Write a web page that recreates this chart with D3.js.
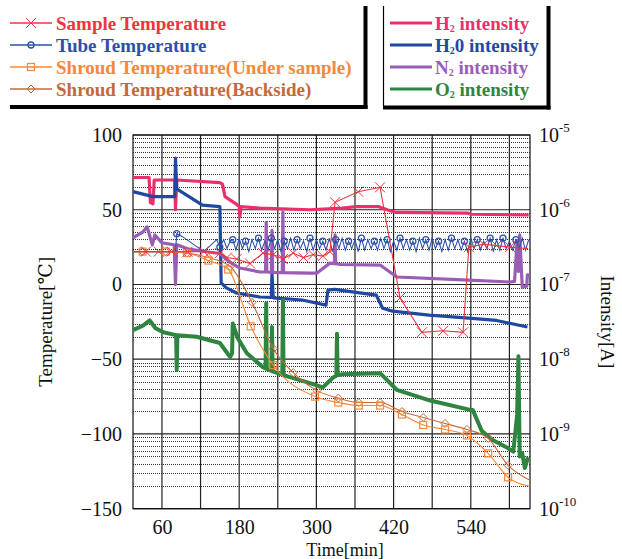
<!DOCTYPE html>
<html>
<head>
<meta charset="utf-8">
<script src="https://cdn.jsdelivr.net/npm/d3@7"></script>
<style>
body { margin: 0; background: #fff; }
</style>
</head>
<body>
<script>

// Temperature series [time(min), temperature(C)]
var sampleTemp = [[15,22],[35,22],[55,22],[75,22],[100,22],[125,22],[150,21],[161,18],[176,17],[197,14],[217,21],[233,20],[248,17],[264,21],[280,18],[295,20],[310,19],[321,22],[329,55],[365,62],[399,65],[430,-9],[464,-32],[497,-31],[528,-32],[537,25],[560,27],[580,26],[601,25],[629,24]];

var tubeTemp = [[15,22],[40,22],[60,22],[81,22],[83,34],[92,32],[125,22],[145,30],[150,25],[156,30],[161,24],[166,29],
  [170,30],[175,23],[180,31],[185,24],[190,29],[195,22],[200,30],[205,24],[210,31],[215,23],[220,29],[225,23],
  [230,31],[235,24],[240,30],[245,22],[250,29],[255,24],[260,31],[265,23],[270,30],[275,24],[280,29],[285,22],
  [290,31],[295,23],[300,30],[305,24],[310,29],[315,23],[320,31],[325,22],[330,30],[335,24],[340,31],[345,23],
  [350,29],[355,24],[360,30],[365,22],[370,31],[375,23],[380,30],[385,24],[390,29],[395,23],[400,31],[405,24],
  [410,30],[415,22],[420,29],[425,23],[430,31],[435,24],[440,30],[445,23],[450,29],[455,22],[460,31],[465,24],
  [470,30],[475,23],[480,31],[485,24],[490,29],[495,22],[500,30],[505,23],[510,31],[515,24],[520,30],[525,23],
  [530,29],[535,22],[540,31],[545,24],[550,30],[555,23],[560,29],[565,24],[570,31],[575,22],[580,30],[585,23],
  [590,31],[595,24],[600,29],[605,23],[610,30],[615,24],[620,31],[625,23],[630,30]];

var shroudUnder = [[15,22],[30,22],[66,22],[99,21],[132,16],[163,10],[198,-28],[233,-54],[298,-75],[334,-79],[366,-81],[399,-81],[433,-87],[466,-94],[500,-97],[534,-101],[567,-113],[598,-129],[632,-135]];

var shroudBack = [[15,22],[30,22],[66,22],[99,21],[132,18],[166,12],[200,-12],[233,-43],[264,-59],[301,-71],[334,-76],[366,-79],[399,-79],[433,-85],[466,-89],[500,-93],[534,-97],[567,-103],[598,-121],[632,-131]];

// Intensity series [time(min), intensity(A)]
var h2Int = [[15,2.7e-6],[40,2.7e-6],[42,1.25e-6],[46,1.2e-6],[48,2.5e-6],[80,2.5e-6],[81,1.0e-6],[83,2.5e-6],[150,2.3e-6],[154,2.2e-6],[158,1.5e-6],[175,1.2e-6],[180,1.1e-6],[181,8e-7],[183,1.1e-6],[212,1.05e-6],[290,1.0e-6],[340,1.05e-6],[362,1.1e-6],[397,1.1e-6],[410,1.0e-6],[424,9.2e-7],[536,9.0e-7],[540,8.7e-7],[630,8.5e-7]];

var h2oInt = [[15,1.75e-6],[46,1.5e-6],[80,1.5e-6],[81,4.9e-6],[83,1.9e-6],[123,1.15e-6],[150,1.1e-6],[152,1.05e-7],[160,9e-8],[176,7.7e-8],[212,6.8e-8],[230,6.7e-8],[231,1.4e-7],[233,6.6e-8],[278,6.2e-8],[315,5.3e-8],[318,8.4e-8],[328,8.6e-8],[393,7.2e-8],[403,4.8e-8],[418,4.4e-8],[475,3.9e-8],[537,3.55e-8],[580,3.3e-8],[628,2.7e-8]];

var n2Int = [[15,4.2e-7],[30,5e-7],[37,5.9e-7],[45,3.4e-7],[49,4.6e-7],[60,3.6e-7],[79,3.4e-7],[81,1.0e-7],[83,3.4e-7],[100,3.0e-7],[135,2.7e-7],[150,2.6e-7],[165,2.0e-7],[181,1.66e-7],[212,1.47e-7],[221,1.47e-7],[222,6.8e-7],[223,1.47e-7],[230,1.45e-7],[231,5.3e-7],[232,1.45e-7],[247,1.44e-7],[248,9.3e-7],[249,1.44e-7],[290,1.42e-7],[301,1.42e-7],[321,1.93e-7],[328,1.9e-7],[329,4.6e-7],[330,1.9e-7],[337,1.85e-7],[399,1.82e-7],[425,1.26e-7],[528,1.15e-7],[601,1.08e-7],[608,1.1e-7],[612,3.9e-7],[614,1.5e-7],[616,4.6e-7],[620,9.2e-8],[627,9.5e-8],[628,1.35e-7],[632,1.3e-7]];

var o2Int = [[15,2.45e-8],[30,2.8e-8],[41,3.3e-8],[50,2.6e-8],[62,2.3e-8],[82,2.1e-8],[83,7.2e-9],[84,2.1e-8],[114,2.0e-8],[150,1.65e-8],[166,1.07e-8],[169,1.2e-8],[170,3.0e-8],[178,1.9e-8],[192,1.2e-8],[217,7.8e-9],[221,7.5e-9],[222,5.6e-8],[223,7.4e-9],[230,7e-9],[231,2.7e-8],[232,6.9e-9],[247,6.2e-9],[248,6.2e-8],[249,6.1e-9],[259,5.75e-9],[290,4.8e-9],[310,4.2e-9],[326,5.7e-9],[331,6.0e-9],[332,2.2e-8],[333,6.1e-9],[340,6.3e-9],[399,6.5e-9],[425,3.9e-9],[477,2.8e-9],[539,2.1e-9],[543,2.1e-9],[557,1.1e-9],[574,8.3e-10],[596,6.6e-10],[606,5.8e-10],[612,1.8e-9],[614,1.1e-8],[616,5e-10],[620,5.5e-10],[624,3.5e-10],[629,4.9e-10]];

// Axis ticks
var timeGrid = [60, 120, 180, 240, 300, 360, 420, 480, 540, 600];
var timeLabels = [60, 180, 300, 420, 540];
var tempTicks = [100, 50, 0, -50, -100, -150];
var intExponents = [-5, -6, -7, -8, -9, -10];

var serif = "'Liberation Serif', 'DejaVu Serif', serif";
var width = 622, height = 559;
var plot = {left: 133, right: 530, top: 135, bottom: 508.7};

var svg = d3.select("body").append("svg")
            .attr("width", width)
            .attr("height", height)
            .style("font-family", serif);

var x = d3.scaleLinear().domain([15, 632]).range([plot.left, plot.right]);
var yT = d3.scaleLinear().domain([-150, 100]).range([plot.bottom, plot.top]);
var yI = d3.scaleLog().domain([1e-10, 1e-5]).range([plot.bottom, plot.top]);

// minor dotted grid from the log axis
var minor = yI.ticks().filter(function(d) {
  var l = Math.log10(d);
  return Math.abs(l - Math.round(l)) > 1e-6;
});
svg.append("g").selectAll("line")
   .data(minor).enter().append("line")
   .attr("x1", plot.left).attr("x2", plot.right)
   .attr("y1", function(d) { return Math.round(yI(d)) + 0.5; })
   .attr("y2", function(d) { return Math.round(yI(d)) + 0.5; })
   .attr("stroke", "#333")
   .attr("stroke-width", 1)
   .attr("stroke-dasharray", "1,1");

// solid grid
svg.append("g").selectAll("line")
   .data(tempTicks).enter().append("line")
   .attr("x1", plot.left).attr("x2", plot.right)
   .attr("y1", function(d) { return yT(d); })
   .attr("y2", function(d) { return yT(d); })
   .attr("stroke", "#222").attr("stroke-width", 1.2);

svg.append("g").selectAll("line")
   .data(timeGrid).enter().append("line")
   .attr("x1", function(d) { return x(d); })
   .attr("x2", function(d) { return x(d); })
   .attr("y1", plot.top).attr("y2", plot.bottom)
   .attr("stroke", "#222").attr("stroke-width", 1.2);

svg.append("rect")
   .attr("x", plot.left).attr("y", plot.top)
   .attr("width", plot.right - plot.left)
   .attr("height", plot.bottom - plot.top)
   .attr("fill", "none").attr("stroke", "#111").attr("stroke-width", 1.2);

// intensity lines (right axis)
var intSeries = [
  {data: h2Int, color: "#e9306b", w: 3.2},
  {data: h2oInt, color: "#1f48a3", w: 3.2},
  {data: n2Int, color: "#9a5db6", w: 3.2},
  {data: o2Int, color: "#2e8540", w: 4}
];
var intLine = d3.line()
                .x(function(d) { return x(d[0]); })
                .y(function(d) { return yI(d[1]); });
intSeries.forEach(function(s) {
  svg.append("path")
     .datum(s.data)
     .attr("d", intLine)
     .attr("fill", "none")
     .attr("stroke", s.color)
     .attr("stroke-width", s.w)
     .attr("stroke-linejoin", "round");
});

// markers
function drawMark(g, type, cx, cy, color) {
  if (type == "cross") {
    g.append("path").attr("d", "M" + (cx-5) + "," + (cy-5) + "L" + (cx+5) + "," + (cy+5) + "M" + (cx-5) + "," + (cy+5) + "L" + (cx+5) + "," + (cy-5))
     .attr("stroke", color).attr("stroke-width", 1);
  } else if (type == "circle") {
    g.append("circle").attr("cx", cx).attr("cy", cy).attr("r", 3)
     .attr("fill", "none").attr("stroke", color).attr("stroke-width", 1.3);
  } else if (type == "square") {
    g.append("rect").attr("x", cx-3.5).attr("y", cy-3.5).attr("width", 7).attr("height", 7)
     .attr("fill", "none").attr("stroke", color).attr("stroke-width", 1.2);
  } else {
    g.append("path").attr("d", "M" + cx + "," + (cy-4) + "L" + (cx+4) + "," + cy + "L" + cx + "," + (cy+4) + "L" + (cx-4) + "," + cy + "Z")
     .attr("fill", "none").attr("stroke", color).attr("stroke-width", 1);
  }
}

// temperature lines (left axis)
var tempSeries = [
  {data: shroudBack, color: "#c4693a", mark: "diamond", curve: d3.curveMonotoneX, every: 1},
  {data: shroudUnder, color: "#f7883a", mark: "square", curve: d3.curveMonotoneX, every: 1},
  {data: tubeTemp, color: "#2c50a8", mark: "circle", curve: d3.curveLinear, every: 4},
  {data: sampleTemp, color: "#ee3540", mark: "cross", curve: d3.curveLinear, every: 1}
];
tempSeries.forEach(function(s) {
  var line = d3.line()
               .x(function(d) { return x(d[0]); })
               .y(function(d) { return yT(d[1]); })
               .curve(s.curve);
  svg.append("path")
     .datum(s.data)
     .attr("d", line)
     .attr("fill", "none")
     .attr("stroke", s.color)
     .attr("stroke-width", 1.1);
  var g = svg.append("g");
  s.data.forEach(function(d, i) {
    if (i == 0 || i == s.data.length - 1) return;
    if (i % s.every != 0) return;
    drawMark(g, s.mark, x(d[0]), yT(d[1]), s.color);
  });
});

// left axis
var leftAxis = svg.append("g")
   .attr("transform", "translate(" + plot.left + ",0)")
   .call(d3.axisLeft(yT).tickValues(tempTicks).tickSize(0).tickPadding(11));
leftAxis.attr("font-family", serif);
leftAxis.select(".domain").remove();
leftAxis.selectAll("text").style("font-family", serif).style("font-size", "20px").attr("fill", "#111");

// bottom axis
var bottomAxis = svg.append("g")
   .attr("transform", "translate(0," + plot.bottom + ")")
   .call(d3.axisBottom(x).tickValues(timeLabels).tickSize(0).tickPadding(11));
bottomAxis.attr("font-family", serif);
bottomAxis.select(".domain").remove();
bottomAxis.selectAll("text").style("font-family", serif).style("font-size", "20px").attr("fill", "#111");

// right axis with powers of ten
var rightLabels = svg.append("g").selectAll("text")
   .data(intExponents).enter().append("text")
   .attr("x", 539)
   .attr("y", function(d) { return yI(Math.pow(10, d)) + 7; })
   .style("font-family", serif)
   .style("font-size", "20px")
   .attr("fill", "#111");
rightLabels.append("tspan").text("10");
rightLabels.append("tspan")
   .attr("dy", -10)
   .style("font-size", "13px")
   .text(function(d) { return "-" + (-d); });

// axis titles
svg.append("text")
   .attr("transform", "translate(52," + ((plot.top + plot.bottom) / 2) + ") rotate(-90)")
   .style("text-anchor", "middle")
   .style("font-family", serif)
   .style("font-size", "19px")
   .attr("fill", "#111")
   .text("Temperature[\u2103]");

svg.append("text")
   .attr("transform", "translate(601," + ((plot.top + plot.bottom) / 2) + ") rotate(90)")
   .style("text-anchor", "middle")
   .style("font-family", serif)
   .style("font-size", "19px")
   .attr("fill", "#111")
   .text("Intensity[A]");

svg.append("text")
   .attr("x", 345).attr("y", 556)
   .style("text-anchor", "middle")
   .style("font-family", serif)
   .style("font-size", "18px")
   .attr("fill", "#111")
   .text("Time[min]");

// legend boxes
var legend = svg.append("g");
legend.append("line").attr("x1", 365.5).attr("x2", 365.5).attr("y1", 6).attr("y2", 109).attr("stroke", "#000").attr("stroke-width", 4);
legend.append("line").attr("x1", 10).attr("x2", 367.5).attr("y1", 107).attr("y2", 107).attr("stroke", "#000").attr("stroke-width", 4);
legend.append("line").attr("x1", 383.5).attr("x2", 383.5).attr("y1", 6).attr("y2", 106).attr("stroke", "#000").attr("stroke-width", 1.2);
legend.append("line").attr("x1", 383).attr("x2", 550.5).attr("y1", 107.5).attr("y2", 107.5).attr("stroke", "#000").attr("stroke-width", 4);
legend.append("line").attr("x1", 548.5).attr("x2", 548.5).attr("y1", 6).attr("y2", 109.5).attr("stroke", "#000").attr("stroke-width", 4);

var legendTemp = [
  {name: "Sample Temperature", color: "#ee3540", mark: "cross"},
  {name: "Tube Temperature", color: "#2c50a8", mark: "circle"},
  {name: "Shroud Temperature(Under sample)", color: "#f7883a", mark: "square"},
  {name: "Shroud Temperature(Backside)", color: "#c4693a", mark: "diamond"}
];
var rowY = [23, 45, 67, 89];
legendTemp.forEach(function(d, i) {
  legend.append("line").attr("x1", 10).attr("x2", 52).attr("y1", rowY[i]).attr("y2", rowY[i])
        .attr("stroke", d.color).attr("stroke-width", 1.3);
  drawMark(legend, d.mark, 31, rowY[i], d.color);
  legend.append("text").attr("x", 56).attr("y", rowY[i] + 7)
        .style("font-family", serif)
        .style("font-size", "19px").style("font-weight", "bold")
        .attr("fill", d.color).text(d.name);
});

var legendInt = [
  {el: "H", rest: " intensity", color: "#e9306b"},
  {el: "H", rest: "0 intensity", color: "#1f48a3"},
  {el: "N", rest: " intensity", color: "#9a5db6"},
  {el: "O", rest: " intensity", color: "#2e8540"}
];
legendInt.forEach(function(d, i) {
  legend.append("line").attr("x1", 390).attr("x2", 432).attr("y1", rowY[i]).attr("y2", rowY[i])
        .attr("stroke", d.color).attr("stroke-width", 3);
  var t = legend.append("text").attr("x", 435).attr("y", rowY[i] + 7)
        .style("font-family", serif)
        .style("font-size", "19px").style("font-weight", "bold")
        .attr("fill", d.color);
  t.append("tspan").text(d.el);
  t.append("tspan").attr("dy", 2).style("font-size", "10px").text("2");
  t.append("tspan").attr("dy", -2).text(d.rest);
});

</script>
</body>
</html>
